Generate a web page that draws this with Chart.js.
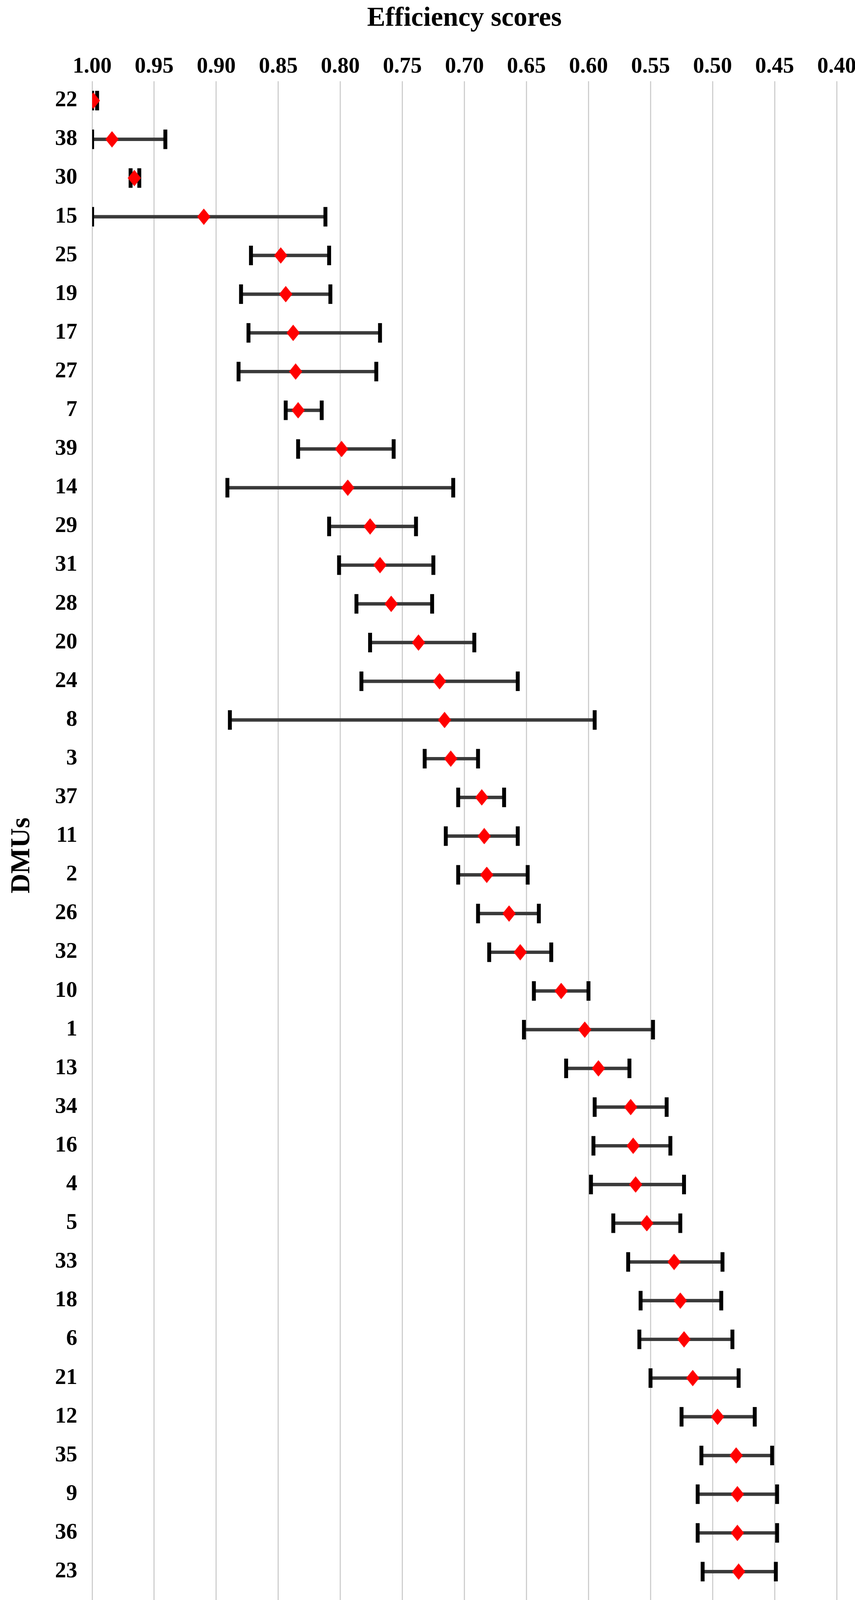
<!DOCTYPE html>
<html>
<head>
<meta charset="utf-8">
<script src="https://cdn.jsdelivr.net/npm/chart.js@4.4.1/dist/chart.umd.min.js"></script>
<style>
  body { margin: 0; background: #fff; }
  canvas { display: block; }
</style>
</head>
<body>
<canvas id="dmu-plot" width="2190" height="4299"></canvas>
<script>
// DMUs, top to bottom
const dmus = ['22','38','30','15','25','19','17','27','7','39','14','29','31','28','20','24','8','3','37','11',
              '2','26','32','10','1','13','34','16','4','5','33','18','6','21','12','35','9','36','23','40'];

// upper end of interval (left cap, axis is reversed)
const upperScores = [1.000, 1.000, 0.969, 1.000, 0.872, 0.880, 0.874, 0.882, 0.844, 0.834,
                     0.891, 0.809, 0.801, 0.787, 0.776, 0.783, 0.889, 0.732, 0.705, 0.715,
                     0.705, 0.689, 0.680, 0.644, 0.652, 0.618, 0.595, 0.596, 0.598, 0.580,
                     0.568, 0.558, 0.559, 0.550, 0.525, 0.509, 0.512, 0.512, 0.508, 0.492];

// efficiency score (red diamond)
const scores = [0.999, 0.984, 0.966, 0.910, 0.848, 0.844, 0.838, 0.836, 0.834, 0.799,
                0.794, 0.776, 0.768, 0.759, 0.737, 0.720, 0.716, 0.711, 0.686, 0.684,
                0.682, 0.664, 0.655, 0.622, 0.603, 0.592, 0.566, 0.564, 0.562, 0.553,
                0.531, 0.526, 0.523, 0.516, 0.496, 0.481, 0.480, 0.480, 0.479, 0.463];

// lower end of interval (right cap)
const lowerScores = [0.996, 0.941, 0.962, 0.812, 0.809, 0.808, 0.768, 0.771, 0.815, 0.757,
                     0.709, 0.739, 0.725, 0.726, 0.692, 0.657, 0.595, 0.689, 0.668, 0.657,
                     0.649, 0.640, 0.630, 0.600, 0.548, 0.567, 0.537, 0.534, 0.523, 0.526,
                     0.492, 0.493, 0.484, 0.479, 0.466, 0.452, 0.448, 0.448, 0.449, 0.434];

const tickValues = [1.00, 0.95, 0.90, 0.85, 0.80, 0.75, 0.70, 0.65, 0.60, 0.55, 0.50, 0.45, 0.40];

Chart.defaults.font.family = "'Liberation Serif', 'Times New Roman', serif";
Chart.defaults.color = '#000';

// tall red diamond marker
const diamond = document.createElement('canvas');
diamond.width = 34;
diamond.height = 42;
const dctx = diamond.getContext('2d');
dctx.fillStyle = '#ff0000';
dctx.beginPath();
dctx.moveTo(17, 0);
dctx.lineTo(34, 21);
dctx.lineTo(17, 42);
dctx.lineTo(0, 21);
dctx.closePath();
dctx.fill();

const tickFont = { size: 57, weight: 'bold' };

function xAxis(position, height, padding, showGrid, title) {
    return {
        type: 'linear',
        position: position,
        min: 0.4,
        max: 1.0,
        reverse: true,
        afterBuildTicks: s => { s.ticks = tickValues.map(v => ({ value: v })); },
        afterFit: s => { s.height = height; s.paddingLeft = 0; s.paddingRight = 0; },
        ticks: {
            font: tickFont,
            padding: padding,
            autoSkip: false,
            maxRotation: 0,
            callback: v => Number(v).toFixed(2)
        },
        grid: { display: showGrid, color: '#cfcfcf', lineWidth: 3, drawTicks: false },
        border: { display: false },
        title: title
    };
}

const ctx = document.getElementById('dmu-plot').getContext('2d');
new Chart(ctx, {
    type: 'bar',
    data: {
        labels: dmus,
        datasets: [
            {
                type: 'line',
                label: 'Score',
                data: dmus.map((d, i) => ({ x: scores[i], y: d })),
                xAxisID: 'x',
                showLine: false,
                pointStyle: diamond,
                pointRadius: 20,
                order: 0
            },
            {
                type: 'line',
                label: 'Upper',
                data: dmus.map((d, i) => ({ x: upperScores[i], y: d })),
                xAxisID: 'x',
                showLine: false,
                pointStyle: 'line',
                pointRotation: 90,
                pointRadius: 25,
                pointBorderWidth: 10,
                pointBorderColor: '#000',
                order: 1
            },
            {
                type: 'line',
                label: 'Lower',
                data: dmus.map((d, i) => ({ x: lowerScores[i], y: d })),
                xAxisID: 'x',
                showLine: false,
                pointStyle: 'line',
                pointRotation: 90,
                pointRadius: 25,
                pointBorderWidth: 10,
                pointBorderColor: '#000',
                order: 1
            },
            {
                type: 'bar',
                label: 'Interval',
                data: dmus.map((d, i) => [lowerScores[i], upperScores[i]]),
                xAxisID: 'x',
                backgroundColor: '#3a3a3a',
                borderWidth: 0,
                barThickness: 8,
                order: 2
            }
        ]
    },
    options: {
        indexAxis: 'y',
        responsive: false,
        devicePixelRatio: 1,
        animation: false,
        layout: { padding: { left: 0, right: 47, top: 0, bottom: 0 } },
        plugins: {
            legend: { display: false },
            tooltip: { enabled: false }
        },
        scales: {
            x: xAxis('top', 208, 3, true, {
                display: true,
                text: 'Efficiency scores',
                font: { size: 70, weight: 'bold' },
                padding: { top: 6, bottom: 0 }
            }),
            x2: xAxis('bottom', 127, 39, false, { display: false }),
            y: {
                type: 'category',
                afterFit: s => { s.width = 236; s.paddingTop = 0; s.paddingBottom = 0; },
                ticks: { font: tickFont, padding: 38, autoSkip: false },
                grid: { display: false, drawTicks: false },
                border: { display: false },
                title: {
                    display: true,
                    text: 'DMUs',
                    font: { size: 70, weight: 'bold' },
                    padding: { top: 15, bottom: 0 }
                }
            }
        }
    }
});
</script>
</body>
</html>
